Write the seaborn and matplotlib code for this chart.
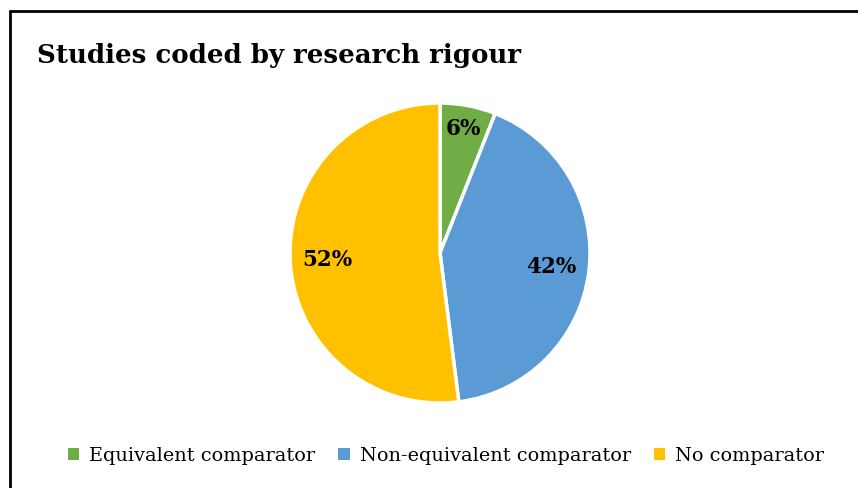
import numpy as np
import matplotlib
matplotlib.use("Agg")
import matplotlib.pyplot as plt
import seaborn as sns
from matplotlib.lines import Line2D
from matplotlib.patches import Patch

sns.set_theme(style="white")
plt.rcParams['font.family'] = ['DejaVu Serif']
plt.rcParams['text.color'] = 'black'

categories = ["Equivalent comparator", "Non-equivalent comparator", "No comparator"]
values = [6, 42, 52]
colors = ["#70AD47", "#5B9BD5", "#FFC000"]
title = "Studies coded by research rigour"

fig = plt.figure(figsize=(8.58, 4.88), dpi=100)
fig.patch.set_facecolor("white")

# frame lines (left and top)
fig.add_artist(Line2D([10/858, 10/858], [0, 1 - 11/488], color="black", lw=2, transform=fig.transFigure))
fig.add_artist(Line2D([10/858, 1], [1 - 11/488, 1 - 11/488], color="black", lw=2, transform=fig.transFigure))

fig.text(37/858, 1 - 55/488, title, fontsize=18.7, fontweight="bold", va="center", ha="left", color="black")

# pie axes: center (440, 253), radius 150
r = 150
ax = fig.add_axes([(440 - r) / 858, 1 - (253 + r) / 488, 2 * r / 858, 2 * r / 488])
wedges, texts, autotexts = ax.pie(
    values, colors=colors, startangle=90, counterclock=False,
    autopct=lambda p: f"{p:.0f}%", pctdistance=0.75,
    wedgeprops=dict(edgecolor="white", linewidth=2.5),
    textprops=dict(fontsize=15.5, fontweight="bold", color="black"),
)
# move small slice label further out
w = wedges[0]
ang = np.deg2rad((w.theta1 + w.theta2) / 2)
autotexts[0].set_position((0.84 * np.cos(ang), 0.84 * np.sin(ang)))
ax.set_aspect("equal")
ax.set_xlim(-1.0, 1.0)
ax.set_ylim(-1.0, 1.0)
ax.axis("off")

handles = [Patch(facecolor=c, edgecolor="none") for c in colors]
fig.legend(handles, categories, loc="center", bbox_to_anchor=(446/858, 1 - 456/488),
           ncol=3, frameon=False, fontsize=13.9, handlelength=0.6, handleheight=0.6,
           handletextpad=0.5, columnspacing=1.2, labelcolor="black")

fig.savefig("out.png", dpi=100, facecolor="white")
